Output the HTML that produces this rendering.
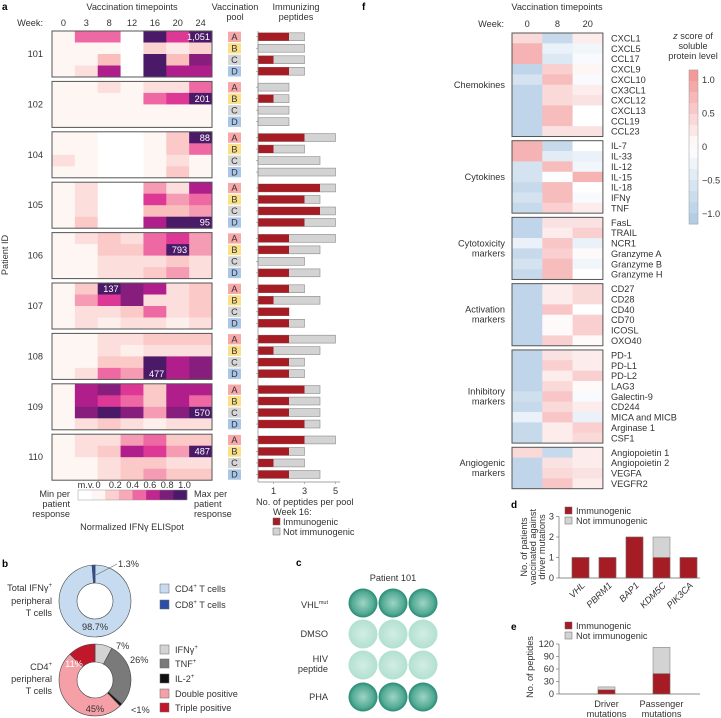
<!DOCTYPE html>
<html><head><meta charset="utf-8">
<style>
html,body{margin:0;padding:0;background:#fff;}
svg{display:block;font-family:"Liberation Sans",sans-serif;}
text{font-size:9.2px;fill:#333;}
.pl{font-weight:bold;font-size:10px;fill:#000;}
</style></head>
<body>
<svg id="fig" width="721" height="718" viewBox="0 0 721 718" xmlns="http://www.w3.org/2000/svg">
<defs>
<radialGradient id="wellD" cx="50%" cy="50%" r="50%"><stop offset="0" stop-color="#9fd4c4"/><stop offset="0.75" stop-color="#52ab95"/><stop offset="1" stop-color="#2a8a74"/></radialGradient>
<radialGradient id="wellL" cx="50%" cy="50%" r="50%"><stop offset="0" stop-color="#d2eee4"/><stop offset="1" stop-color="#b2e0d0"/></radialGradient>
</defs>
<text class="pl" x="2" y="10">a</text>
<text x="132" y="10" text-anchor="middle">Vaccination timepoints</text>
<text x="235" y="10" text-anchor="middle">Vaccination</text>
<text x="235" y="20" text-anchor="middle">pool</text>
<text x="296" y="10" text-anchor="middle">Immunizing</text>
<text x="296" y="20" text-anchor="middle">peptides</text>
<text x="43" y="26" text-anchor="end">Week:</text>
<text transform="translate(8,255) rotate(-90)" text-anchor="middle">Patient ID</text>
<g id="ga"></g>
<g id="gf"></g>
<g id="gb"></g>
<g id="gc"></g>
<g id="gd"></g>
<g id="ge"></g>
</svg>
<script>
// ---------- Panel a data ----------
const weeks = ['0','3','8','12','16','20','24'];
const patients = ['101','102','104','105','106','107','108','109','110'];
const pools = ['A','B','C','D'];
const MV = -1;
const heat101 = [[0,.5,.5,MV,1,.6,1],[0,0,0,MV,.15,.05,.15],[0,0,.25,MV,1,.25,.8],[0,.1,.7,MV,1,.7,.7]];
const heat102 = [[0,0,.1,0,.1,.1,.5],[0,0,0,0,.5,.6,1],[0,0,0,0,0,0,0],[0,0,0,0,0,0,0]];
const heat104 = [[0,0,MV,MV,0,.2,1],[0,0,MV,MV,0,.2,.5],[.1,0,MV,MV,0,.1,0],[0,0,MV,MV,0,.2,0]];
const heat105 = [[0,.1,MV,MV,.4,.1,.7],[0,.1,MV,MV,.6,.4,.5],[0,.1,MV,MV,.25,.25,.4],[0,.2,MV,MV,.7,1,1]];
const heat106 = [[0,.1,.2,.1,.5,.6,.4],[0,0,.2,.2,.5,1,.4],[0,0,.1,.1,.1,.2,.1],[0,0,.1,.1,.2,.4,.1]];
const heat107 = [[0,.2,1,.8,.7,.1,.2],[0,.4,.6,.8,.1,.1,.2],[0,.1,.1,.2,.5,.1,.2],[0,.1,.03,.1,.1,.03,.1]];
const heat108 = [[0,0,.1,.1,.2,.2,.2],[0,0,.1,.03,.1,.1,.1],[0,0,.2,.2,1,.7,.8],[0,.1,.5,.4,1,.7,.8]];
const heat109 = [[0,.7,.8,.6,.2,.7,.7],[0,.7,.6,.5,.2,.7,.5],[0,.8,1,.8,.4,.8,1],[0,.1,.2,.1,.03,.1,.1]];
const heat110 = [[0,.1,.1,.4,.5,.2,.2],[0,.1,.2,.7,.6,.4,1],[0,0,.1,.2,.2,.1,.1],[0,0,.1,.2,.4,.2,.2]];
const heatAll = [heat101,heat102,heat104,heat105,heat106,heat107,heat108,heat109,heat110];
const maxLabels = ['1,051','201','88','95','793','137','477','570','487'];
const maxPos = [[0,6],[1,6],[0,6],[3,6],[1,5],[0,2],[3,4],[2,6],[1,6]];
const immuno = [[2,0,1,2],[0,1,0,0],[3,1,0,0],[4,3,4,3],[2,2,0,2],[2,1,2,2],[2,1,2,2],[3,2,2,3],[3,2,1,2]];
const totals = [[3,3,3,3],[2,2,2,2],[5,3,4,5],[5,4,5,5],[5,4,3,4],[3,4,2,3],[5,4,3,3],[4,4,4,4],[5,3,3,4]];
const barTicks = [1,3,5];
const cbTicks = ['0','0.2','0.4','0.6','0.8','1.0'];

// ---------- Panel f data ----------
const fWeeks = ['0','8','20'];
const fGroups = [['Chemokines'],['Cytokines'],['Cytotoxicity','markers'],['Activation','markers'],['Inhibitory','markers'],['Angiogenic','markers']];
const fProteins = [
 ['CXCL1','CXCL5','CCL17','CXCL9','CXCL10','CX3CL1','CXCL12','CXCL13','CCL19','CCL23'],
 ['IL-7','IL-33','IL-12','IL-15','IL-18','IFNγ','TNF'],
 ['FasL','TRAIL','NCR1','Granzyme A','Granzyme B','Granzyme H'],
 ['CD27','CD28','CD40','CD70','ICOSL','OXO40'],
 ['PD-1','PD-L1','PD-L2','LAG3','Galectin-9','CD244','MICA and MICB','Arginase 1','CSF1'],
 ['Angiopoietin 1','Angiopoietin 2','VEGFA','VEGFR2']];
const fZ = [
 [[.4,-.8,.2],[.8,-.3,-.2],[.8,-.5,-.1],[-.9,.5,.1],[-.6,.7,-.1],[-.9,.4,.2],[-.9,.4,.3],[-.9,.7,0],[-.9,.7,0],[-.9,.3,.3]],
 [[.8,-.8,0],[.8,-.4,-.3],[-.6,.7,-.2],[-.6,-.05,.8],[-.8,.7,0],[-.6,.7,-.1],[-.8,.5,.2]],
 [[-.9,.3,.3],[-.9,.2,.5],[-.3,.6,-.3],[-.8,.5,.05],[-.6,.7,-.2],[-.8,.7,0]],
 [[-.9,.2,.4],[-.9,.2,.4],[-.9,.6,0],[-.9,.05,.5],[-.9,.05,.5],[-.9,.5,.05]],
 [[-.9,.3,.2],[-.9,.5,.2],[-.9,.2,.5],[-.9,.4,.05],[-.7,.6,-.1],[-.8,.4,.2],[-.3,.6,-.3],[-.8,.2,.5],[-.8,.2,.4]],
 [[.4,-.8,.2],[-.9,.3,.2],[-.9,.4,.3],[-.9,.6,.2]]];
const zTicks = [1.0,0.5,0,-0.5,-1.0];

// ---------- Panel b data ----------
const donut1Labels = ['CD4<tspan dy="-4" font-size="6">+</tspan><tspan dy="4"> T cells</tspan>','CD8<tspan dy="-4" font-size="6">+</tspan><tspan dy="4"> T cells</tspan>'];
const donut1Values = [98.7,1.3];
const donut2Labels = ['IFNγ<tspan dy="-4" font-size="6">+</tspan>','TNF<tspan dy="-4" font-size="6">+</tspan>','IL-2<tspan dy="-4" font-size="6">+</tspan>','Double positive','Triple positive'];
const donut2Values = [7,26,1,45,11];

// ---------- Panel d / e data ----------
const dGenes = ['VHL','PBRM1','BAP1','KDM5C','PIK3CA'];
const dImmuno = [1,1,2,1,1];
const dTotal = [1,1,2,2,1];
const dTicks = [0,1,2,3];
const eCats = [['Driver','mutations'],['Passenger','mutations']];
const eImmuno = [10,49];
const eTotal = [17,112];
const eTicks = [0,30,60,90,120];

// ---------- helpers ----------
const NS='http://www.w3.org/2000/svg';
function mk(parent,tag,attrs,txt){const e=document.createElementNS(NS,tag);for(const k in attrs)e.setAttribute(k,attrs[k]);if(txt!==undefined)e.textContent=txt;parent.appendChild(e);return e;}
function lerp(a,b,t){return a+(b-a)*t;}
function hex(c){return '#'+c.map(v=>Math.round(v).toString(16).padStart(2,'0')).join('');}
function mixC(c1,c2,t){return [0,1,2].map(i=>lerp(c1[i],c2[i],t));}
const aStops=[[0,[253,246,243]],[0.1,[252,222,220]],[0.25,[250,190,188]],[0.4,[245,155,180]],[0.5,[238,105,163]],[0.6,[222,56,150]],[0.7,[175,30,138]],[0.85,[115,30,120]],[1,[74,26,104]]];
function aColor(v){if(v<0)return '#ffffff';for(let i=1;i<aStops.length;i++){if(v<=aStops[i][0]){const t=(v-aStops[i-1][0])/(aStops[i][0]-aStops[i-1][0]);return hex(mixC(aStops[i-1][1],aStops[i][1],t));}}return hex(aStops[aStops.length-1][1]);}
function zColor(z){if(z>=0)return hex(mixC([255,255,255],[242,150,150],Math.min(z,1.1)/1.1));return hex(mixC([255,255,255],[178,204,228],Math.min(-z,1.1)/1.1));}

// ---------- Panel a ----------
const ga=document.getElementById('ga');
const hx0=52,cw=22.86,rowH=11.5,grpStep=50.4,gy0=31;
const colX=i=>hx0+i*cw;
const barX0=258,barU=15.5;
const barX=v=>barX0+v*barU;
weeks.forEach((w,i)=>{const t=mk(ga,'text',{x:colX(i)+cw/2,y:26,'text-anchor':'middle'},w);

});
const poolCol={A:'#f7a8a8',B:'#fbe08a',C:'#d6d6d6',D:'#a9c6e8'};
patients.forEach((p,pi)=>{
 const gy=gy0+pi*grpStep;const M=heatAll[pi];
 const g=mk(ga,'g',{});
 
 
 M.forEach((row,ri)=>row.forEach((v,ci)=>{
  const r=mk(g,'rect',{x:colX(ci),y:gy+ri*rowH,width:cw+0.4,height:rowH+0.4,fill:aColor(v)});
  
  
 }));
 const fr=mk(g,'rect',{x:hx0,y:gy,width:cw*7,height:rowH*4,fill:'none',stroke:'#555','stroke-width':1});
 
 
 const [mr,mc]=maxPos[pi];
 const ml=mk(g,'text',{x:colX(mc)+cw-2,y:gy+mr*rowH+9,'text-anchor':'end',style:'fill:#fff'},maxLabels[pi]);
 
 
 const pl=mk(g,'text',{x:43,y:gy+rowH*2+3,'text-anchor':'end'},p);
 
 
 pools.forEach((pp,ri)=>{
  const y=gy+ri*rowH;
  const b=mk(g,'rect',{x:228,y:y+0.7,width:13,height:rowH-1.2,fill:poolCol[pp]});
  
  
  const bt=mk(g,'text',{x:234.5,y:y+9,'text-anchor':'middle'},pp);
  
  
  const tot=totals[pi][ri],im=immuno[pi][ri];
  const tb=mk(g,'rect',{x:barX0,y:y+1.8,width:barX(tot)-barX0,height:rowH-3.6,fill:'#d3d3d3',stroke:'#8a8a8a','stroke-width':0.6});
  
  
  if(im>0){const ib=mk(g,'rect',{x:barX0,y:y+1.8,width:barX(im)-barX0,height:rowH-3.6,fill:'#a51c24'});
  
  }
  mk(g,'line',{x1:barX0-2,x2:barX0,y1:y+rowH/2,y2:y+rowH/2,stroke:'#888','stroke-width':0.6});
 });
});
const axL=mk(ga,'line',{x1:barX0,x2:barX0,y1:gy0,y2:482,stroke:'#888','stroke-width':0.7});

const axB=mk(ga,'line',{x1:barX0,x2:barX(5.3),y1:482,y2:482,stroke:'#888','stroke-width':0.7});

barTicks.forEach(t=>{mk(ga,'line',{x1:barX(t),x2:barX(t),y1:482,y2:484,stroke:'#888','stroke-width':0.6});
 const tt=mk(ga,'text',{x:barX(t),y:494,'text-anchor':'middle'},t);
 });
[['No. of peptides per pool',256,505,'bar-x-axis-title'],['Week 16:',273,515,'legend-a-title']].forEach(a=>{const t=mk(ga,'text',{x:a[1],y:a[2]},a[0]);});
[['Immunogenic','#a51c24',525],['Not immunogenic','#d3d3d3',535]].forEach(a=>{
 const r=mk(ga,'rect',{x:273,y:a[2]-7,width:7,height:7,fill:a[1],stroke:'#666','stroke-width':0.5});
 
 const t=mk(ga,'text',{x:283,y:a[2]},a[0]);
 });
// colorbar a
const cbx0=78,cbw=109;const cbSeg=cbw/8;
for(let i=0;i<8;i++){const v=i===0?-1:(i-1)/6;const r=mk(ga,'rect',{x:cbx0+i*cbSeg,y:490,width:cbSeg+0.3,height:10,fill:aColor(v)});
 }
mk(ga,'rect',{x:cbx0,y:490,width:cbw,height:10,fill:'none',stroke:'#999','stroke-width':0.5});
const mv=mk(ga,'text',{x:86,y:488,'text-anchor':'middle'},'m.v.');
cbTicks.forEach((t,i)=>{const tt=mk(ga,'text',{x:98+i*17.3,y:488,'text-anchor':'middle'},t);});
[['Min per',70,497,'end'],['patient',70,507,'end'],['response',70,517,'end'],['Max per',194,497,'start'],['patient',194,507,'start'],['response',194,517,'start'],['Normalized IFNγ ELISpot',132,530,'middle']].forEach((a,i)=>{const t=mk(ga,'text',{x:a[1],y:a[2],'text-anchor':a[3]},a[0]);});

// ---------- Panel f ----------
const gf=document.getElementById('gf');
const fx0=512,fcw=30.3,frh=10.35,fy0=33,fgap=4.2;
const fcol=i=>fx0+i*fcw;
mk(gf,'text',{class:'pl',x:362,y:10},'f');
mk(gf,'text',{x:557,y:10,'text-anchor':'middle'},'Vaccination timepoints');
mk(gf,'text',{x:504,y:27,'text-anchor':'end'},'Week:');
fWeeks.forEach((w,i)=>{const t=mk(gf,'text',{x:fcol(i)+fcw/2,y:27,'text-anchor':'middle'},w);});
let fy=fy0;
fGroups.forEach((gname,gi)=>{
 const n=fProteins[gi].length;
 fProteins[gi].forEach((pn,ri)=>{
  fZ[gi][ri].forEach((z,ci)=>{const r=mk(gf,'rect',{x:fcol(ci),y:fy+ri*frh,width:fcw+0.3,height:frh+0.3,fill:zColor(z)});
   });
  const t=mk(gf,'text',{x:611,y:fy+ri*frh+8.5},pn);
 });
 const fr=mk(gf,'rect',{x:fx0,y:fy,width:fcw*3,height:frh*n,fill:'none',stroke:'#555','stroke-width':1});
 
 const mid=fy+frh*n/2;
 gname.forEach((ln,li)=>{const t=mk(gf,'text',{x:505,y:mid+3+(li-(gname.length-1)/2)*10,'text-anchor':'end'},ln);});
 fy+=frh*n+fgap;
});
// z colorbar
const zy=z=>147-z*67;
for(let i=0;i<14;i++){const z1=1.15-i*(2.3/14);const r=mk(gf,'rect',{x:689,y:zy(z1),width:9,height:2.3/14*67+0.3,fill:zColor(z1-2.3/28)});
 }
mk(gf,'rect',{x:689,y:zy(1.15),width:9,height:2.3*67,fill:'none',stroke:'#999','stroke-width':0.5});
zTicks.forEach(t=>{const s=t===0?'0':(t<0?'−':'')+Math.abs(t).toFixed(1);const tt=mk(gf,'text',{x:702,y:zy(t)+3},s);});
[['z score of',39],['soluble',49],['protein level',59]].forEach((a,i)=>{const t=mk(gf,'text',{x:693,y:a[1],'text-anchor':'middle'},a[0]);if(i===0)t.innerHTML='<tspan font-style="italic">z</tspan> score of';});

// ---------- Panel b ----------
const gb=document.getElementById('gb');
mk(gb,'text',{class:'pl',x:2,y:567},'b');
function donut(cx,cy,R,r,vals,cols,name){
 const tot=vals.reduce((a,b)=>a+b,0);let a0=-Math.PI/2;
 vals.forEach((v,i)=>{const a1=a0+v/tot*2*Math.PI;const large=(a1-a0)>Math.PI?1:0;
  const p=`M${cx+R*Math.cos(a0)},${cy+R*Math.sin(a0)} A${R},${R} 0 ${large} 1 ${cx+R*Math.cos(a1)},${cy+R*Math.sin(a1)} L${cx+r*Math.cos(a1)},${cy+r*Math.sin(a1)} A${r},${r} 0 ${large} 0 ${cx+r*Math.cos(a0)},${cy+r*Math.sin(a0)} Z`;
  const s=mk(gb,'path',{d:p,fill:cols[i],stroke:'#444','stroke-width':0.6});
  a0=a1;});
}
donut(95,601,36,18,donut1Values,['#c6dbf0','#2b4ea8'],'donut-total');
donut(95,680,36,18,donut2Values,['#d3d3d3','#7a7a7a','#111','#f4a0a6','#c0182a'],'donut-cd4');
[['1.3%',118,567,'start'],['98.7%',95,630,'middle'],['7%',116,649,'start'],['26%',130,663,'start'],['11%',74,667,'middle','#fff'],['45%',95,712,'middle'],['<1%',131,713,'start']].forEach((a,i)=>{const t=mk(gb,'text',{x:a[1],y:a[2],'text-anchor':a[3]},a[0]);if(a[4])t.setAttribute('style','fill:#fff');});
mk(gb,'line',{x1:96,y1:575,x2:117,y2:564,stroke:'#444','stroke-width':0.5});
[['Total IFNγ<tspan dy="-4" font-size="6">+</tspan>',591],['peripheral',604],['T cells',616],['CD4<tspan dy="-4" font-size="6">+</tspan>',670],['peripheral',682],['T cells',694]].forEach((a,i)=>{const t=mk(gb,'text',{x:52,y:a[1],'text-anchor':'end'});t.innerHTML=a[0];});
const lg=[[donut1Labels[0],'#c6dbf0',592],[donut1Labels[1],'#2b4ea8',608],[donut2Labels[0],'#d3d3d3',653],[donut2Labels[1],'#7a7a7a',667],[donut2Labels[2],'#111',682],[donut2Labels[3],'#f4a0a6',697],[donut2Labels[4],'#c0182a',711]];
lg.forEach((a,i)=>{const r=mk(gb,'rect',{x:160,y:a[2]-8,width:9,height:9,fill:a[1],stroke:'#666','stroke-width':0.5});
 const t=mk(gb,'text',{x:175,y:a[2]});t.innerHTML=a[0];});

// ---------- Panel c ----------
const gc=document.getElementById('gc');
mk(gc,'text',{class:'pl',x:296,y:566},'c');
mk(gc,'text',{x:393,y:581,'text-anchor':'middle'},'Patient 101');
const wellY=[603,634,665,697];
[363,393,423].forEach((x,ci)=>wellY.forEach((y,ri)=>{const dark=(ri===0||ri===3);const c=mk(gc,'circle',{cx:x,cy:y,r:14.5,fill:dark?'url(#wellD)':'url(#wellL)'});
 }));
const t1=mk(gc,'text',{x:328,y:608,'text-anchor':'end'});t1.innerHTML='VHL<tspan dy="-4" font-size="5.5">mut</tspan>';
[['DMSO',637],['HIV',662],['peptide',672],['PHA',700]].forEach((a,i)=>{const t=mk(gc,'text',{x:328,y:a[1],'text-anchor':'end'},a[0]);});

// ---------- Panel d ----------
const gd=document.getElementById('gd');
mk(gd,'text',{class:'pl',x:511,y:508},'d');
const dY=v=>578-v*20.5;const dX=i=>572+i*27;const dW=17;
mk(gd,'line',{x1:559,x2:700,y1:dY(0),y2:dY(0),stroke:'#666','stroke-width':0.7});
mk(gd,'line',{x1:559,x2:559,y1:dY(0),y2:dY(3),stroke:'#666','stroke-width':0.7});
dTicks.forEach(t=>{mk(gd,'line',{x1:556,x2:559,y1:dY(t),y2:dY(t),stroke:'#666','stroke-width':0.6});const tt=mk(gd,'text',{x:554,y:dY(t)+3,'text-anchor':'end'},t);});
dGenes.forEach((g,i)=>{
 const r1=mk(gd,'rect',{x:dX(i),y:dY(dTotal[i]),width:dW,height:dY(0)-dY(dTotal[i]),fill:'#d3d3d3',stroke:'#777','stroke-width':0.5});
 const r2=mk(gd,'rect',{x:dX(i),y:dY(dImmuno[i]),width:dW,height:dY(0)-dY(dImmuno[i]),fill:'#a51c24',stroke:'#777','stroke-width':0.5});
 const t=mk(gd,'text',{transform:`translate(${dX(i)+dW/2+5},${dY(0)+8}) rotate(-45)`,'text-anchor':'end','font-style':'italic'},g);
});
[['No. of patients',527],['vaccinated against',536],['driver mutations',545]].forEach((a,i)=>{const t=mk(gd,'text',{transform:`translate(${a[1]},547) rotate(-90)`,'text-anchor':'middle'},a[0]);});
[['Immunogenic','#a51c24',514],['Not immunogenic','#d3d3d3',524]].forEach((a,i)=>{mk(gd,'rect',{x:565,y:a[2]-7,width:7,height:7,fill:a[1],stroke:'#666','stroke-width':0.5});const t=mk(gd,'text',{x:576,y:a[2]},a[0]);});

// ---------- Panel e ----------
const ge=document.getElementById('ge');
mk(ge,'text',{class:'pl',x:511,y:630},'e');
const eY=v=>694-v*50/120;const eX=i=>598+i*55;const eW=17;
mk(ge,'line',{x1:559,x2:700,y1:eY(0),y2:eY(0),stroke:'#666','stroke-width':0.7});
mk(ge,'line',{x1:559,x2:559,y1:eY(0),y2:eY(120),stroke:'#666','stroke-width':0.7});
eTicks.forEach(t=>{mk(ge,'line',{x1:556,x2:559,y1:eY(t),y2:eY(t),stroke:'#666','stroke-width':0.6});const tt=mk(ge,'text',{x:554,y:eY(t)+3,'text-anchor':'end'},t);});
eCats.forEach((c,i)=>{
 const r1=mk(ge,'rect',{x:eX(i),y:eY(eTotal[i]),width:eW,height:eY(0)-eY(eTotal[i]),fill:'#d3d3d3',stroke:'#777','stroke-width':0.5});
 const r2=mk(ge,'rect',{x:eX(i),y:eY(eImmuno[i]),width:eW,height:eY(0)-eY(eImmuno[i]),fill:'#a51c24',stroke:'#777','stroke-width':0.5});
 c.forEach((ln,li)=>{const t=mk(ge,'text',{x:eX(i)+eW/2,y:707+li*10,'text-anchor':'middle'},ln);});
});
const et=mk(ge,'text',{transform:'translate(533,667) rotate(-90)','text-anchor':'middle'},'No. of peptides');
[['Immunogenic','#a51c24',629],['Not immunogenic','#d3d3d3',639]].forEach((a,i)=>{mk(ge,'rect',{x:565,y:a[2]-7,width:7,height:7,fill:a[1],stroke:'#666','stroke-width':0.5});const t=mk(ge,'text',{x:576,y:a[2]},a[0]);});
</script>
</body></html>
